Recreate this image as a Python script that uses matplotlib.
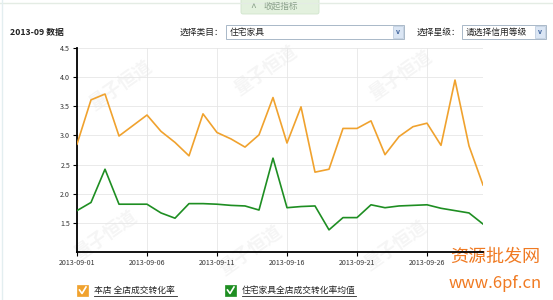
import matplotlib
matplotlib.use("Agg")
import matplotlib.pyplot as plt
from matplotlib.patches import Rectangle, FancyBboxPatch

plt.rcParams['font.family'] = ['Noto Sans CJK SC', 'DejaVu Sans']

# Daily data, 2013-09-01 .. 2013-09-30
days = list(range(1, 31))
store_rate = [2.85, 3.61, 3.71, 2.99, 3.17, 3.35, 3.07, 2.88, 2.65, 3.37,
              3.05, 2.94, 2.80, 3.01, 3.65, 2.87, 3.49, 2.37, 2.42, 3.12,
              3.12, 3.25, 2.67, 2.98, 3.15, 3.21, 2.83, 3.95, 2.82, 2.15]
category_avg = [1.71, 1.85, 2.42, 1.82, 1.82, 1.82, 1.67, 1.58, 1.83, 1.83,
                1.82, 1.80, 1.79, 1.72, 2.61, 1.76, 1.78, 1.79, 1.38, 1.59,
                1.59, 1.81, 1.76, 1.79, 1.80, 1.81, 1.75, 1.71, 1.67, 1.48]
x_ticks = [1, 6, 11, 16, 21, 26]
x_labels = ["2013-09-01", "2013-09-06", "2013-09-11", "2013-09-16",
            "2013-09-21", "2013-09-26"]
y_ticks = [1.5, 2.0, 2.5, 3.0, 3.5, 4.0, 4.5]
series_names = ["本店 全店成交转化率", "住宅家具全店成交转化率均值"]

ORANGE = "#F0A22E"
GREEN = "#1E8E22"

fig = plt.figure(figsize=(5.53, 3.0), dpi=100)

# Background layer in pixel coordinates
bg = fig.add_axes([0, 0, 1, 1])
bg.set_xlim(0, 553)
bg.set_ylim(300, 0)
bg.axis("off")

bg.plot([0, 553], [3, 3], color="#e4ece4", lw=1)
bg.plot([2, 2], [0, 300], color="#e3eef0", lw=1)

# "收起指标" tab
bg.add_patch(FancyBboxPatch((241, -3), 78, 17, boxstyle="round,pad=0,rounding_size=2",
                            facecolor="#e3f1de", edgecolor="#d0e4cc", lw=0.6))
bg.text(253, 8, "^", fontsize=7.5, color="#8aa08a", ha="center", va="center")
bg.text(263, 6.5, "收起指标", fontsize=6.2, color="#8aa08a", ha="left", va="center")

# Header row
bg.text(10, 32, "2013-09 数据", fontsize=6.3, fontweight="bold", color="#222222",
        ha="left", va="center")
bg.text(180, 32, "选择类目：", fontsize=6.3, color="#222222", ha="left", va="center")
bg.add_patch(Rectangle((226, 25), 178, 14, facecolor="white", edgecolor="#a9b8c8", lw=0.7))
bg.text(230, 32, "住宅家具", fontsize=6.3, color="#222222", ha="left", va="center")
bg.add_patch(Rectangle((393, 26), 10, 12, facecolor="#dbe6f4", edgecolor="#b8c8dc", lw=0.5))
bg.text(398, 32, "v", fontsize=5, color="#3a5f9a", ha="center", va="center",
        fontweight="bold")
bg.text(417, 32, "选择星级：", fontsize=6.3, color="#222222", ha="left", va="center")
bg.add_patch(Rectangle((462, 25), 84, 14, facecolor="white", edgecolor="#a9b8c8", lw=0.7))
bg.text(466, 32, "请选择信用等级", fontsize=6.3, color="#222222", ha="left", va="center")
bg.add_patch(Rectangle((535, 26), 10, 12, facecolor="#dbe6f4", edgecolor="#b8c8dc", lw=0.5))
bg.text(540, 32, "v", fontsize=5, color="#3a5f9a", ha="center", va="center",
        fontweight="bold")

# Faint "量子恒道" watermarks
for wx, wy in [(120, 85), (265, 70), (400, 75), (105, 235), (250, 250), (395, 245)]:
    bg.text(wx, wy, "量子恒道", fontsize=13, color="#f5f5f5", rotation=35,
            ha="center", va="center", fontweight="bold")

# Chart
ax = fig.add_axes([77 / 553, 1 - 252 / 300, 406 / 553, 204 / 300])
ax.patch.set_alpha(0)
ax.plot(days, store_rate, color=ORANGE, lw=1.2, zorder=3)
ax.plot(days, category_avg, color=GREEN, lw=1.2, zorder=3)
ax.set_xlim(1, 30)
ax.set_ylim(1.0, 4.5)
ax.set_xticks(x_ticks)
ax.set_xticklabels(x_labels)
ax.set_yticks(y_ticks)
ax.set_yticklabels([f"{v:.1f}" for v in y_ticks])
ax.tick_params(axis="both", labelsize=5.1, colors="#333333", length=3, width=0.8,
               direction="out", pad=2)
ax.tick_params(axis="both", color="black")
ax.grid(True, color="#e6e6e6", lw=0.6)
for side in ["top", "right"]:
    ax.spines[side].set_visible(False)
for side in ["left", "bottom"]:
    ax.spines[side].set_color("black")
    ax.spines[side].set_linewidth(1.3)

# Legend with checkboxes
for bx, color, tx, name, tw in [(77, ORANGE, 94, series_names[0], 83),
                                (225, GREEN, 242, series_names[1], 114)]:
    bg.add_patch(Rectangle((bx, 285), 11, 11, facecolor=color, edgecolor=color, lw=0.5))
    bg.plot([bx + 2.5, bx + 5, bx + 9], [290, 293.5, 287], color="white", lw=1.2)
    bg.text(tx, 290.5, name, fontsize=6.3, color="#222222", ha="left", va="center")
    bg.plot([tx, tx + tw], [295.5, 295.5], color="#222222", lw=0.6)

# Site watermark
bg.text(495, 257, "资源批发网", fontsize=13, color="#F07A22", ha="center", va="center")
bg.text(495, 284, "www.6pf.cn", fontsize=12, color="#F07A22", ha="center", va="center")

fig.savefig("out.png", dpi=100)
